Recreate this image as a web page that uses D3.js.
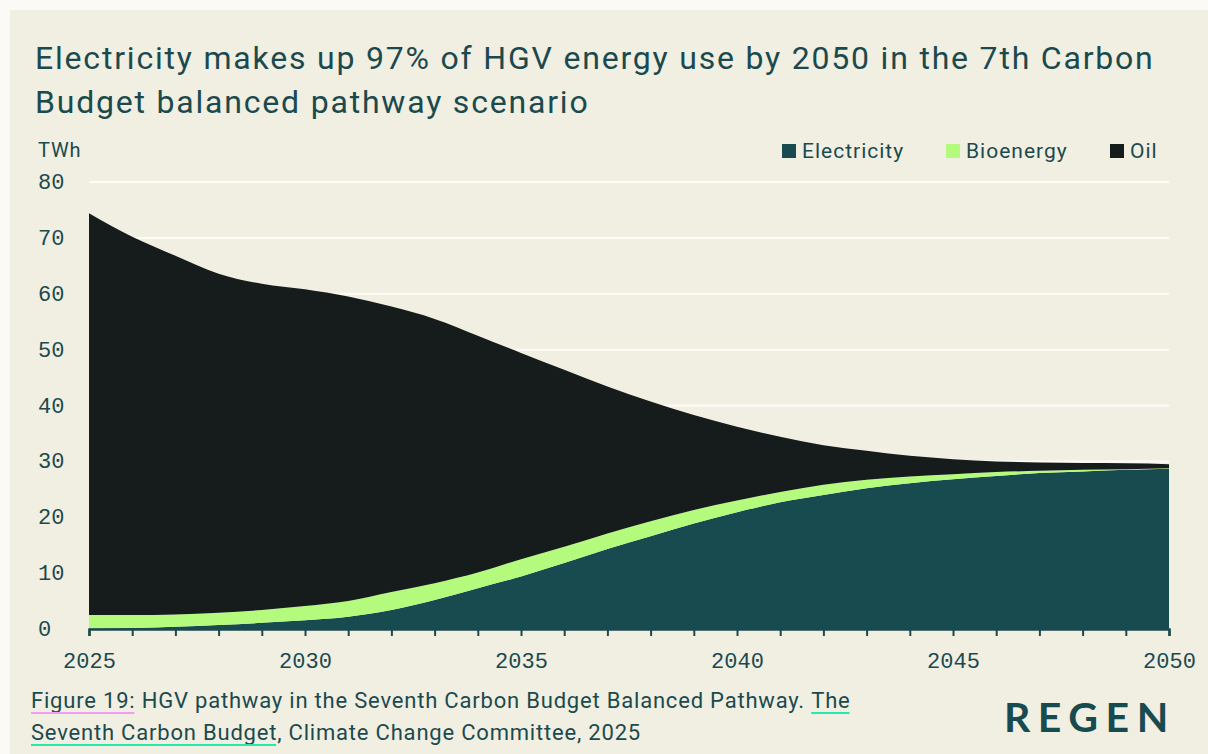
<!DOCTYPE html>
<html>
<head>
<meta charset="utf-8">
<script src="https://cdn.jsdelivr.net/npm/d3@7"></script>
<style>
  html, body { margin: 0; padding: 0; background: #fbfaf6; }
  svg { display: block; }
</style>
</head>
<body>
<svg id="chart" width="1208" height="754"></svg>
<script>
// HGV final energy use by fuel, TWh (Seventh Carbon Budget, Balanced Pathway)
const years = [2025, 2026, 2027, 2028, 2029, 2030, 2031, 2032, 2033, 2034, 2035, 2036, 2037,
               2038, 2039, 2040, 2041, 2042, 2043, 2044, 2045, 2046, 2047, 2048, 2049, 2050];
const electricity = [0.1, 0.2, 0.4, 0.7, 1.1, 1.55, 2.2, 3.4, 5.2, 7.3, 9.4, 11.8, 14.3,
                     16.6, 18.9, 20.9, 22.7, 24.0, 25.2, 26.1, 26.8, 27.4, 27.9, 28.2, 28.5, 28.7];
const bioenergy = [2.4, 2.3, 2.2, 2.2, 2.3, 2.55, 2.8, 3.2, 3.0, 2.8, 3.1, 2.9, 2.8,
                   2.7, 2.4, 2.1, 1.8, 1.8, 1.5, 1.2, 0.9, 0.7, 0.4, 0.3, 0.1, 0.05];
const oil = [71.9, 67.7, 64.2, 60.7, 58.4, 56.7, 54.5, 51.1, 47.3, 42.4, 36.9, 31.7, 26.3,
             21.4, 17.0, 13.2, 9.9, 7.1, 5.2, 3.7, 2.7, 1.9, 1.5, 1.2, 1.05, 0.75];

const seriesNames = ["Electricity", "Bioenergy", "Oil"];
const seriesColors = ["#174b50", "#b4fb7d", "#161b1b"];
const yTicks = [0, 10, 20, 30, 40, 50, 60, 70, 80];
const xTickLabels = [2025, 2030, 2035, 2040, 2045, 2050];

const ink = "#1b4a4e";
const sans = "Roboto, 'Noto Sans', sans-serif";
const mono = "'Liberation Mono', 'DejaVu Sans Mono', monospace";

const svg = d3.select("#chart");

// card background
svg.append("rect").attr("x", 10).attr("y", 10).attr("width", 1198).attr("height", 744)
  .attr("fill", "#f1eee2");

// title
const titleLines = ["Electricity makes up 97% of HGV energy use by 2050 in the 7th Carbon",
                    "Budget balanced pathway scenario"];
svg.append("g").selectAll("text").data(titleLines).join("text")
  .attr("x", 35).attr("y", (d, i) => 69 + i * 44)
  .attr("fill", ink).attr("font-family", sans).attr("font-size", 32)
  .attr("letter-spacing", 1.8)
  .text(d => d);

// plot geometry
const x0 = 89, x1 = 1169, yTop = 182, yBottom = 629;
const x = d3.scaleLinear().domain([years[0], years[years.length - 1]]).range([x0, x1]);
const y = d3.scaleLinear().domain([0, 80]).range([yBottom, yTop]);

// gridlines
svg.append("g").selectAll("line").data(yTicks.filter(v => v > 0)).join("line")
  .attr("x1", x0).attr("x2", x1)
  .attr("y1", d => y(d)).attr("y2", d => y(d))
  .attr("stroke", "#fdfcf7").attr("stroke-width", 2);

// stacked areas
const rows = years.map((yr, i) => ({
  year: yr, Electricity: electricity[i], Bioenergy: bioenergy[i], Oil: oil[i]
}));
const stacked = d3.stack().keys(seriesNames)(rows);
const area = d3.area()
  .x(d => x(d.data.year))
  .y0(d => y(d[0]))
  .y1(d => y(d[1]))
  .curve(d3.curveMonotoneX);
svg.append("g").selectAll("path").data(stacked).join("path")
  .attr("d", area)
  .attr("fill", (d, i) => seriesColors[i]);

// y axis labels
svg.append("g").selectAll("text").data(yTicks).join("text")
  .attr("x", 38).attr("y", d => y(d) + 7)
  .attr("fill", ink).attr("font-family", mono).attr("font-size", 22)
  .text(d => d);

svg.append("text").attr("x", 38).attr("y", 157)
  .attr("fill", ink).attr("font-family", sans).attr("font-size", 20)
  .attr("letter-spacing", 0.8)
  .text("TWh");

// x axis
const xAxis = d3.axisBottom(x)
  .tickValues(years)
  .tickSize(7)
  .tickFormat(d => xTickLabels.includes(d) ? d : "");
const gx = svg.append("g").attr("transform", `translate(0,${yBottom})`).call(xAxis);
gx.select(".domain").attr("stroke", ink).attr("stroke-width", 2.5);
gx.selectAll(".tick line").attr("stroke", ink).attr("stroke-width", 2);
gx.selectAll(".tick text")
  .attr("fill", ink).attr("font-family", mono).attr("font-size", 22)
  .attr("dy", 0).attr("y", 39);

// legend
const legendX = [782, 946, 1110];
const lg = svg.append("g").selectAll("g").data(seriesNames).join("g")
  .attr("transform", (d, i) => `translate(${legendX[i]},144)`);
lg.append("rect").attr("width", 14).attr("height", 14)
  .attr("fill", (d, i) => seriesColors[i]);
lg.append("text").attr("x", 20).attr("y", 14)
  .attr("fill", ink).attr("font-family", sans).attr("font-size", 21)
  .attr("letter-spacing", 1)
  .text(d => d);

// caption with underlined links
const captionParts = [
  [{ t: "Figure 19:", u: "#f29df4" }, { t: " HGV pathway in the Seventh Carbon Budget Balanced Pathway. " }, { t: "The", u: "#27e8ad" }],
  [{ t: "Seventh Carbon Budget", u: "#27e8ad" }, { t: ", Climate Change Committee, 2025" }]
];
const cap = svg.append("g");
captionParts.forEach((line, li) => {
  let cx = 31;
  const by = 708 + li * 32;
  line.forEach(p => {
    const t = cap.append("text").attr("x", cx).attr("y", by)
      .attr("fill", ink).attr("font-family", sans).attr("font-size", 22)
      .attr("letter-spacing", 0.8)
      .attr("xml:space", "preserve").style("white-space", "pre")
      .text(p.t);
    const w = t.node().getComputedTextLength();
    if (p.u) {
      cap.append("line").attr("x1", cx).attr("x2", cx + w - 1)
        .attr("y1", by + 5).attr("y2", by + 5)
        .attr("stroke", p.u).attr("stroke-width", 2);
    }
    cx += w;
  });
});

// wordmark
svg.append("text").attr("x", 1004).attr("y", 732)
  .attr("fill", "#174b50").attr("font-family", "Lato, Roboto, sans-serif")
  .attr("font-weight", 700).attr("font-size", 41).attr("letter-spacing", 7.5)
  .text("REGEN");
</script>
</body>
</html>
